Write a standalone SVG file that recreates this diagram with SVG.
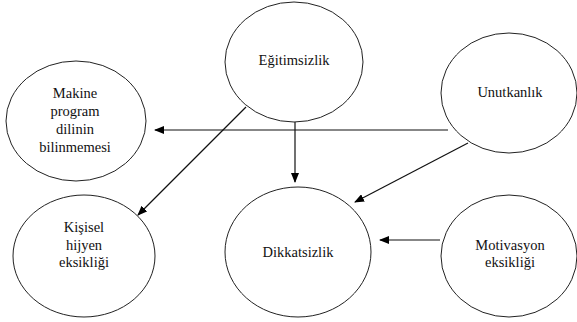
<svg xmlns="http://www.w3.org/2000/svg" width="577" height="322" viewBox="0 0 577 322">
<style>
.n ellipse{fill:#fff;stroke:#222;stroke-width:1}
.n text{font-family:'Liberation Serif','DejaVu Serif',serif;font-size:14.5px;fill:#111;text-anchor:middle}
.c line{stroke:#111;stroke-width:1.2}
</style>
<defs>
<marker id="ah" markerWidth="10" markerHeight="8" refX="9" refY="4" orient="auto" markerUnits="userSpaceOnUse">
<path d="M0,0 L10,4 L0,8 Z" fill="#000"/>
</marker>
</defs>
<rect width="577" height="322" fill="#fff"/>
<g class="c">
<line x1="448" y1="130" x2="155" y2="130" marker-end="url(#ah)"/>
<line x1="295" y1="122" x2="295" y2="182" marker-end="url(#ah)"/>
<line x1="246" y1="107" x2="138" y2="215" marker-end="url(#ah)"/>
<line x1="468" y1="143" x2="355" y2="202" marker-end="url(#ah)"/>
<line x1="440" y1="240" x2="380" y2="240" marker-end="url(#ah)"/>
</g>
<g id="egitimsizlik" class="n"><ellipse cx="294" cy="62" rx="69" ry="60"/><text x="294" y="65" font-family="Liberation Serif, serif">Eğitimsizlik</text></g>
<g id="makine" class="n"><ellipse cx="76" cy="121" rx="70" ry="60"/>
<text x="75" y="98">Makine</text><text x="75" y="116">program</text><text x="75" y="134">dilinin</text><text x="75" y="152">bilinmemesi</text></g>
<g id="unutkanlik" class="n"><ellipse cx="509" cy="93" rx="68" ry="60"/><text x="510" y="97">Unutkanlık</text></g>
<g id="kisisel" class="n"><ellipse cx="84" cy="256" rx="71" ry="61"/>
<text x="84" y="232">Kişisel</text><text x="84" y="250">hijyen</text><text x="84" y="267">eksikliği</text></g>
<g id="dikkatsizlik" class="n"><ellipse cx="298" cy="252" rx="73" ry="65"/><text x="298" y="257">Dikkatsizlik</text></g>
<g id="motivasyon" class="n"><ellipse cx="509" cy="256" rx="68" ry="61"/>
<text x="510" y="250">Motivasyon</text><text x="510" y="267">eksikliği</text></g>
</svg>
